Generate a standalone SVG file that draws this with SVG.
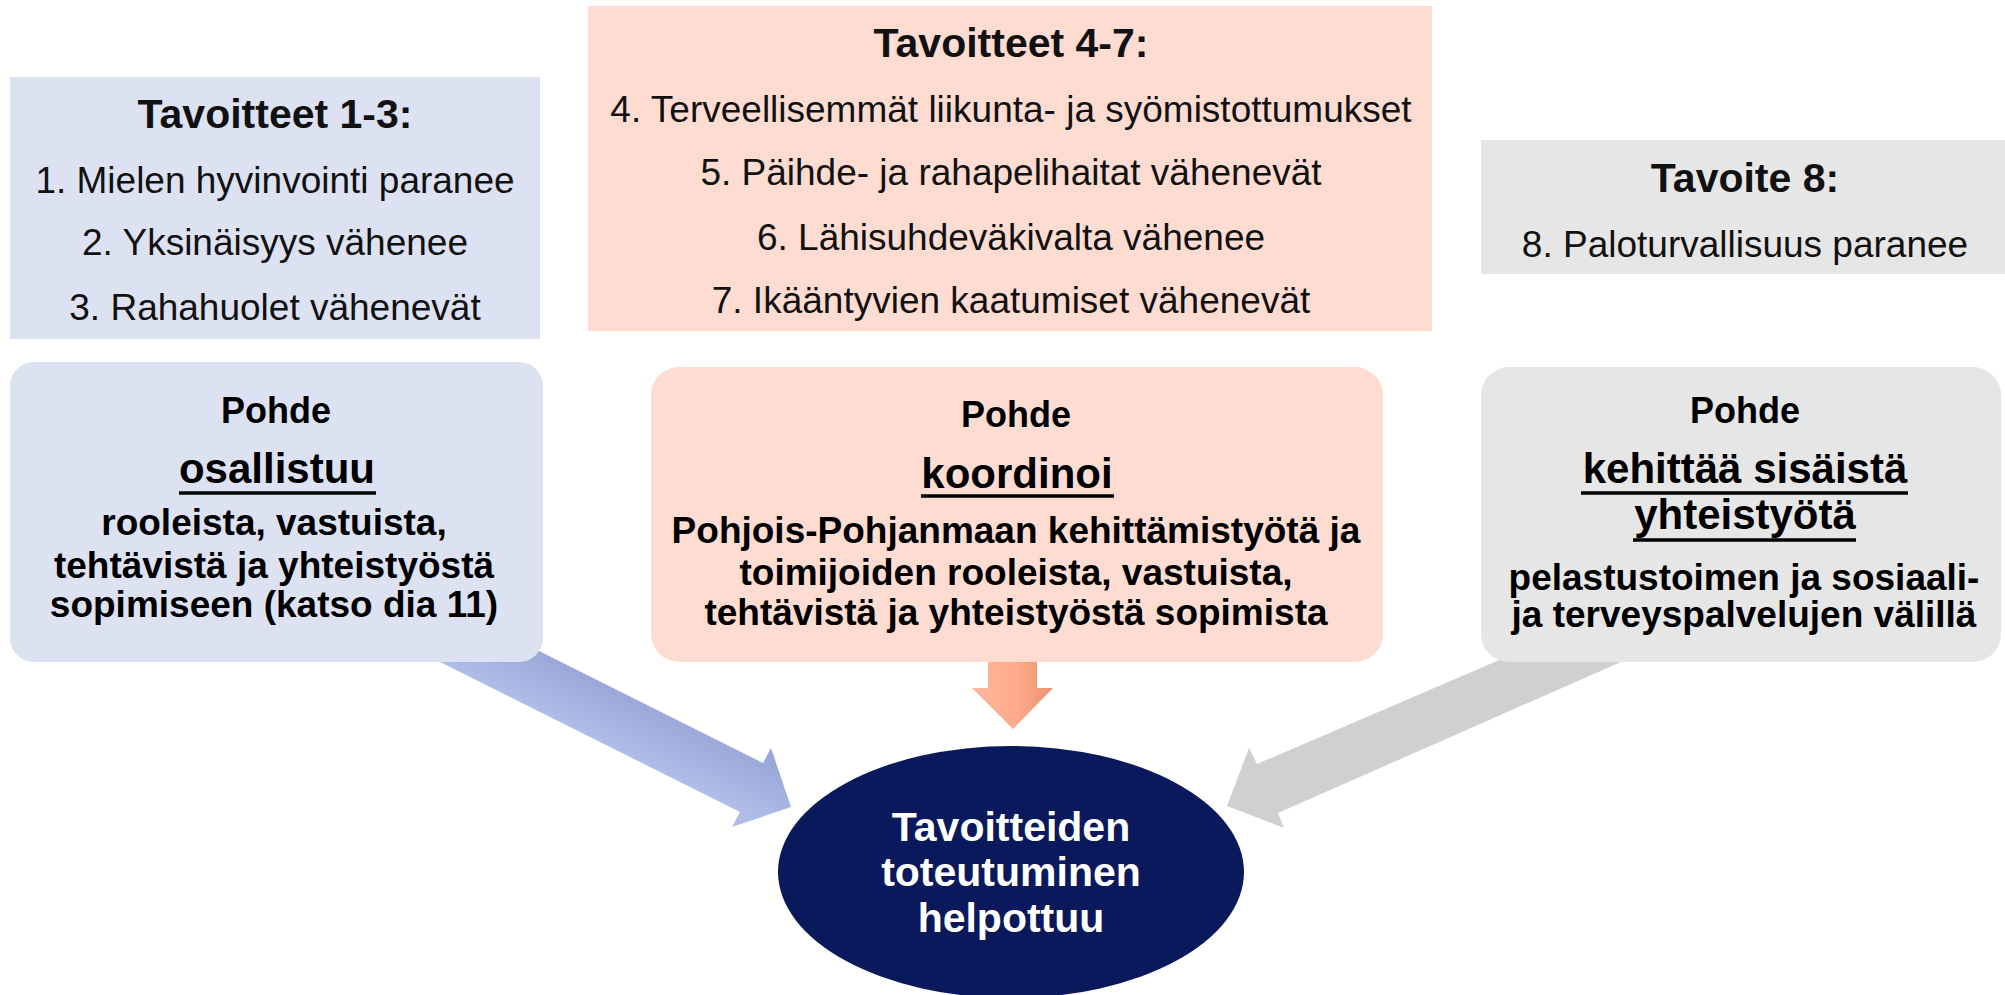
<svg xmlns="http://www.w3.org/2000/svg" width="2005" height="995" viewBox="0 0 2005 995">
  <defs>
    <style>
      text { font-family: "Liberation Sans", Arial, sans-serif; text-anchor: middle; fill: #111111; }
      .title { font-size: 41px; font-weight: bold; }
      .item { font-size: 37px; }
      .pohde { font-size: 36px; font-weight: bold; fill: #000000; }
      .verb { font-size: 42px; font-weight: bold; fill: #000000; }
      .body { font-size: 37px; font-weight: bold; fill: #000000; }
      .ul { stroke: #000000; stroke-width: 3.5; }
      .blue { fill: #dde2f3; }
      .peach { fill: #ffdcd2; }
      .grey { fill: #e6e6e6; }
      .center { font-size: 41px; font-weight: bold; fill: #ffffff; }
    </style>
    <linearGradient id="gBlue" gradientUnits="userSpaceOnUse" x1="700" y1="732" x2="677" y2="779">
      <stop offset="0" stop-color="#9aa9d9"/>
      <stop offset="1" stop-color="#b0bde9"/>
    </linearGradient>
    <linearGradient id="gOrange" gradientUnits="userSpaceOnUse" x1="972" y1="0" x2="1053" y2="0">
      <stop offset="0" stop-color="#ffb89f"/>
      <stop offset="0.6" stop-color="#fea888"/>
      <stop offset="1" stop-color="#e99273"/>
    </linearGradient>
  </defs>

  <rect x="0" y="0" width="2005" height="995" fill="#ffffff"/>

  <g id="connectors">
    <polygon fill="url(#gBlue)" points="500,631.5 763,763 771,748 791,807 732,827 740,812 420,652"/>
    <polygon fill="url(#gOrange)" points="988,650 1037,650 1037,688 1053,688 1013,729 972,688 988,688"/>
    <polygon fill="#d0d0d0" points="1560,634 1257,764 1249,748 1227,806 1284,828 1278,813 1680,636"/>
  </g>

  <g id="goals-1-3">
    <rect class="blue" x="10" y="77" width="530" height="262"/>
    <text class="title" x="275" y="128">Tavoitteet 1-3:</text>
    <text class="item" x="275" y="193">1. Mielen hyvinvointi paranee</text>
    <text class="item" x="275" y="255">2. Yksinäisyys vähenee</text>
    <text class="item" x="275" y="320">3. Rahahuolet vähenevät</text>
  </g>

  <g id="goals-4-7">
    <rect class="peach" x="588" y="6" width="844" height="325"/>
    <text class="title" x="1011" y="57">Tavoitteet 4-7:</text>
    <text class="item" x="1011" y="122">4. Terveellisemmät liikunta- ja syömistottumukset</text>
    <text class="item" x="1011" y="185">5. Päihde- ja rahapelihaitat vähenevät</text>
    <text class="item" x="1011" y="250">6. Lähisuhdeväkivalta vähenee</text>
    <text class="item" x="1011" y="313">7. Ikääntyvien kaatumiset vähenevät</text>
  </g>

  <g id="goal-8">
    <rect class="grey" x="1481" y="140" width="530" height="134"/>
    <text class="title" x="1745" y="192">Tavoite 8:</text>
    <text class="item" x="1745" y="257">8. Paloturvallisuus paranee</text>
  </g>

  <g id="pohde-osallistuu">
    <rect class="blue" x="10" y="362" width="533" height="300" rx="24" ry="24"/>
    <text class="pohde" x="276" y="423">Pohde</text>
    <text class="verb" x="277" y="483">osallistuu</text>
    <line class="ul" x1="179" y1="493" x2="376" y2="493"/>
    <text class="body" x="274" y="535">rooleista, vastuista,</text>
    <text class="body" x="274" y="578">tehtävistä ja yhteistyöstä</text>
    <text class="body" x="274" y="617">sopimiseen (katso dia 11)</text>
  </g>

  <g id="pohde-koordinoi">
    <rect class="peach" x="651" y="367" width="732" height="295" rx="28" ry="28"/>
    <text class="pohde" x="1016" y="427">Pohde</text>
    <text class="verb" x="1017" y="488">koordinoi</text>
    <line class="ul" x1="921" y1="496" x2="1114" y2="496"/>
    <text class="body" x="1016" y="543">Pohjois-Pohjanmaan kehittämistyötä ja</text>
    <text class="body" x="1016" y="585">toimijoiden rooleista, vastuista,</text>
    <text class="body" x="1016" y="625">tehtävistä ja yhteistyöstä sopimista</text>
  </g>

  <g id="pohde-kehittaa">
    <rect class="grey" x="1481" y="367" width="520" height="295" rx="28" ry="28"/>
    <text class="pohde" x="1745" y="423">Pohde</text>
    <text class="verb" x="1745" y="483">kehittää sisäistä</text>
    <line class="ul" x1="1581" y1="493" x2="1908" y2="493"/>
    <text class="verb" x="1745" y="529">yhteistyötä</text>
    <line class="ul" x1="1633" y1="540" x2="1856" y2="540"/>
    <text class="body" x="1744" y="590">pelastustoimen ja sosiaali-</text>
    <text class="body" x="1744" y="627">ja terveyspalvelujen välillä</text>
  </g>

  <g id="goal-result">
    <ellipse cx="1011" cy="872" rx="233" ry="126" fill="#0a195b"/>
    <text class="center" x="1011" y="841">Tavoitteiden</text>
    <text class="center" x="1011" y="886">toteutuminen</text>
    <text class="center" x="1011" y="932">helpottuu</text>
  </g>
</svg>
